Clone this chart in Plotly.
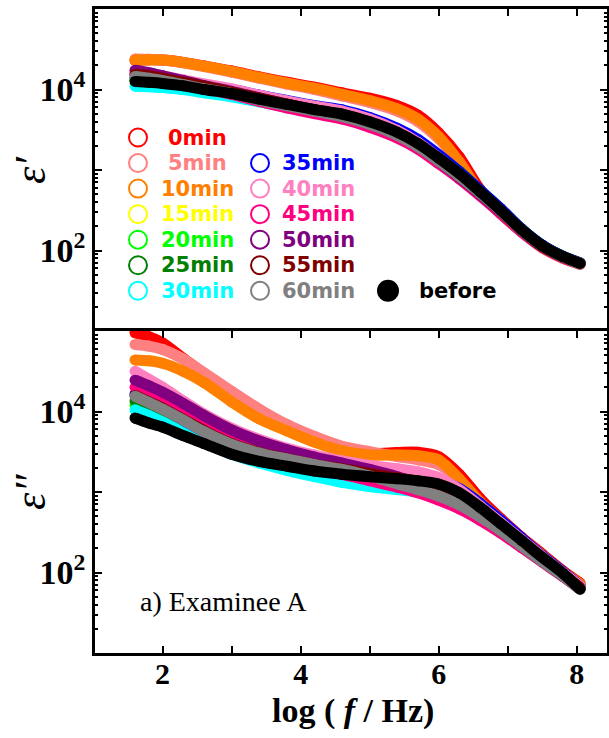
import plotly.graph_objects as go

# ---------------- data ----------------
LOGF = [1.6, 1.8, 2.0, 2.3, 2.6, 3.0, 3.4, 3.8, 4.2, 4.6, 5.0, 5.4, 5.7, 6.0, 6.3, 6.6, 6.9, 7.2, 7.5, 7.8, 8.05]

# epsilon' (upper panel)
E1_00 = [2.3e4, 2.34e4, 2.32e4, 2.17e4, 1.96e4, 1.70e4, 1.43e4, 1.23e4, 1.07e4, 9.1e3, 7.8e3, 6.3e3, 4.8e3, 2.9e3, 1.45e3, 575, 300, 178, 112, 83, 70]
E1_05 = [2.4e4, 2.38e4, 2.33e4, 2.15e4, 1.93e4, 1.64e4, 1.38e4, 1.17e4, 1.0e4, 8.3e3, 6.9e3, 5.4e3, 4.0e3, 2.45e3, 1.25e3, 510, 285, 172, 108, 80, 67]
E1_10 = [2.32e4, 2.34e4, 2.32e4, 2.16e4, 1.95e4, 1.68e4, 1.41e4, 1.20e4, 1.04e4, 8.71e3, 7.3e3, 5.75e3, 4.3e3, 2.6e3, 1.25e3, 525, 288, 174, 110, 81, 68]
E1_15 = [1.29e4, 1.26e4, 1.23e4, 1.15e4, 1.05e4, 9.3e3, 7.9e3, 6.8e3, 5.9e3, 5.2e3, 4.2e3, 3.1e3, 2.24e3, 1.48e3, 933, 550, 324, 184, 116, 85, 70]
E1_20 = [1.32e4, 1.29e4, 1.25e4, 1.17e4, 1.07e4, 9.5e3, 8.1e3, 6.9e3, 6.0e3, 5.3e3, 4.3e3, 3.15e3, 2.3e3, 1.5e3, 950, 555, 326, 185, 116, 85, 70]
E1_25 = [1.3e4, 1.28e4, 1.24e4, 1.16e4, 1.06e4, 9.4e3, 8.0e3, 6.9e3, 6.0e3, 5.3e3, 4.35e3, 3.2e3, 2.35e3, 1.52e3, 960, 560, 328, 186, 117, 85, 70]
E1_30 = [1.1e4, 1.08e4, 1.06e4, 1.0e4, 9.1e3, 8.1e3, 7.0e3, 6.0e3, 5.25e3, 4.6e3, 3.75e3, 2.8e3, 2.04e3, 1.35e3, 871, 525, 309, 180, 115, 84, 69]
E1_35 = [1.41e4, 1.38e4, 1.33e4, 1.24e4, 1.12e4, 1.0e4, 8.5e3, 7.3e3, 6.3e3, 5.6e3, 4.5e3, 3.3e3, 2.4e3, 1.55e3, 955, 562, 331, 186, 117, 85, 70]
E1_40 = [1.66e4, 1.58e4, 1.48e4, 1.32e4, 1.17e4, 1.02e4, 8.5e3, 7.2e3, 6.2e3, 5.4e3, 4.3e3, 3.1e3, 2.2e3, 1.41e3, 890, 525, 309, 178, 112, 83, 69]
E1_45 = [1.55e4, 1.45e4, 1.35e4, 1.17e4, 1.02e4, 8.7e3, 7.1e3, 5.9e3, 5.0e3, 4.3e3, 3.4e3, 2.5e3, 1.82e3, 1.2e3, 776, 479, 288, 170, 110, 81, 68]
E1_50 = [1.74e4, 1.62e4, 1.48e4, 1.29e4, 1.12e4, 9.5e3, 7.9e3, 6.6e3, 5.6e3, 4.8e3, 3.8e3, 2.75e3, 2.0e3, 1.29e3, 813, 501, 302, 178, 112, 83, 69]
E1_55 = [1.55e4, 1.48e4, 1.38e4, 1.23e4, 1.1e4, 9.3e3, 7.8e3, 6.6e3, 5.6e3, 4.9e3, 3.9e3, 2.8e3, 2.04e3, 1.32e3, 851, 513, 309, 178, 112, 83, 69]
E1_60 = [1.45e4, 1.38e4, 1.29e4, 1.15e4, 1.02e4, 8.9e3, 7.4e3, 6.3e3, 5.4e3, 4.6e3, 3.7e3, 2.7e3, 1.95e3, 1.29e3, 832, 513, 309, 178, 114, 83, 68]
E1_BEFORE = [1.26e4, 1.23e4, 1.19e4, 1.11e4, 1.0e4, 8.91e3, 7.59e3, 6.53e3, 5.62e3, 4.95e3, 3.98e3, 2.95e3, 2.14e3, 1.41e3, 902, 537, 316, 182, 115, 84, 69]

# epsilon'' (lower panel)
E2_00 = [9.5e4, 8.5e4, 7.1e4, 4.57e4, 2.95e4, 1.58e4, 9.1e3, 6.0e3, 4.27e3, 3.31e3, 3.02e3, 3.09e3, 3.12e3, 2.75e3, 1.66e3, 832, 468, 275, 170, 105, 74]
E2_05 = [6.8e4, 6.5e4, 5.9e4, 4.47e4, 3.02e4, 1.78e4, 1.07e4, 6.9e3, 4.9e3, 3.7e3, 3.16e3, 2.75e3, 2.51e3, 2.19e3, 1.41e3, 741, 437, 257, 162, 100, 71]
E2_10 = [4.37e4, 4.27e4, 3.98e4, 3.16e4, 2.29e4, 1.32e4, 8.1e3, 5.75e3, 4.17e3, 3.24e3, 2.88e3, 2.88e3, 2.82e3, 2.51e3, 1.45e3, 750, 447, 263, 164, 101, 72]
E2_15 = [1.12e4, 9.5e3, 8.1e3, 6.2e3, 4.7e3, 3.4e3, 2.7e3, 2.3e3, 1.95e3, 1.74e3, 1.62e3, 1.51e3, 1.45e3, 1.29e3, 1.0e3, 661, 407, 251, 155, 98, 63]
E2_20 = [1.2e4, 1.0e4, 8.5e3, 6.4e3, 4.8e3, 3.5e3, 2.75e3, 2.3e3, 1.98e3, 1.78e3, 1.66e3, 1.55e3, 1.48e3, 1.32e3, 1.02e3, 670, 410, 253, 156, 98, 63]
E2_25 = [1.35e4, 1.12e4, 9.2e3, 6.8e3, 5.0e3, 3.6e3, 2.8e3, 2.35e3, 2.02e3, 1.82e3, 1.7e3, 1.6e3, 1.52e3, 1.38e3, 1.06e3, 690, 420, 257, 158, 99, 64]
E2_30 = [1.05e4, 8.9e3, 7.4e3, 5.5e3, 4.17e3, 2.95e3, 2.29e3, 1.86e3, 1.55e3, 1.32e3, 1.17e3, 1.07e3, 1.0e3, 891, 708, 501, 331, 214, 138, 91, 62]
E2_35 = [1.66e4, 1.32e4, 1.1e4, 7.8e3, 5.6e3, 3.9e3, 3.0e3, 2.51e3, 2.19e3, 2.0e3, 1.82e3, 1.7e3, 1.58e3, 1.41e3, 1.1e3, 724, 447, 269, 162, 102, 68]
E2_40 = [3.16e4, 2.51e4, 2.0e4, 1.35e4, 9.3e3, 6.2e3, 4.5e3, 3.5e3, 2.88e3, 2.43e3, 2.14e3, 1.95e3, 1.78e3, 1.51e3, 1.07e3, 676, 417, 257, 158, 100, 68]
E2_45 = [2.0e4, 1.58e4, 1.32e4, 9.3e3, 6.6e3, 4.37e3, 3.09e3, 2.45e3, 2.0e3, 1.66e3, 1.38e3, 1.15e3, 977, 794, 617, 447, 309, 204, 135, 89, 62]
E2_50 = [2.45e4, 2.09e4, 1.74e4, 1.26e4, 8.9e3, 5.9e3, 4.3e3, 3.35e3, 2.72e3, 2.29e3, 1.91e3, 1.55e3, 1.29e3, 1.0e3, 724, 501, 331, 214, 138, 91, 63]
E2_55 = [1.58e4, 1.32e4, 1.1e4, 8.0e3, 5.8e3, 4.0e3, 3.1e3, 2.6e3, 2.2e3, 1.95e3, 1.7e3, 1.5e3, 1.35e3, 1.15e3, 870, 590, 380, 240, 150, 96, 65]
E2_60 = [1.55e4, 1.29e4, 1.07e4, 7.8e3, 5.6e3, 3.9e3, 3.05e3, 2.57e3, 2.19e3, 1.91e3, 1.58e3, 1.26e3, 1.07e3, 891, 692, 490, 331, 214, 138, 91, 62]
E2_BEFORE = [8.3e3, 7.2e3, 6.4e3, 5.0e3, 4.0e3, 2.95e3, 2.4e3, 2.09e3, 1.82e3, 1.66e3, 1.55e3, 1.46e3, 1.38e3, 1.26e3, 977, 646, 403, 251, 155, 98, 62]

NAMES = ["0min", "5min", "10min", "15min", "20min", "25min", "30min",
         "35min", "40min", "45min", "50min", "55min", "60min", "before"]
COLORS = ["#ff0000", "#ff8080", "#ff8000", "#ffff00", "#00ff00", "#008000", "#00ffff",
          "#0000ff", "#ff80c0", "#ff0080", "#800080", "#800000", "#808080", "#000000"]
UPPER = [E1_00, E1_05, E1_10, E1_15, E1_20, E1_25, E1_30,
         E1_35, E1_40, E1_45, E1_50, E1_55, E1_60, E1_BEFORE]
LOWER = [E2_00, E2_05, E2_10, E2_15, E2_20, E2_25, E2_30,
         E2_35, E2_40, E2_45, E2_50, E2_55, E2_60, E2_BEFORE]

X_TICKS = [2, 3, 4, 5, 6, 7, 8]
X_TICKTEXT = ["<b>2</b>", "", "<b>4</b>", "", "<b>6</b>", "", "<b>8</b>"]
Y_TICKS = [1e1, 1e2, 1e3, 1e4, 1e5]
Y_TICKTEXT = ["", "<b>10<sup>2</sup></b>", "", "<b>10<sup>4</sup></b>", ""]

# ---------------- figure ----------------
W, H = 609, 738
ML, MR, MT, MB = 95, 2, 9, 85
PW, PH = W - ML - MR, H - MT - MB


def px_x(px):
    return (px - ML) / PW


def px_y(py):
    return (H - MB - py) / PH


SERIF = "Liberation Serif"
BAND = 11

fig = go.Figure()
for name, col, up, lo in zip(NAMES, COLORS, UPPER, LOWER):
    for vals, xa, ya in ((up, "x2", "y2"), (lo, "x", "y")):
        fig.add_trace(go.Scatter(
            x=LOGF, y=vals, name=name, mode="lines+markers",
            line=dict(color=col, width=BAND, shape="spline", smoothing=0.8),
            marker=dict(size=BAND, color=col),
            xaxis=xa, yaxis=ya, showlegend=False, hoverinfo="skip"))

minor_vals = [m * 10 ** e for e in range(1, 5) for m in range(2, 10)]

axis_common = dict(showline=True, linecolor="black", linewidth=2.5, ticks="inside",
                   tickcolor="black", tickwidth=2, ticklen=7, showgrid=False,
                   zeroline=False, automargin=False)
x_common = dict(axis_common, range=[1.02, 8.44], tickmode="array",
                tickvals=X_TICKS, ticktext=X_TICKTEXT)
y_common = dict(axis_common, type="log", range=[1, 5], tickmode="array",
                tickvals=Y_TICKS, ticktext=Y_TICKTEXT, mirror="ticks",
                tickfont=dict(family=SERIF, size=34, color="black"),
                minor=dict(tickmode="array", tickvals=minor_vals, ticks="inside",
                           ticklen=3.5, tickwidth=1.5, tickcolor="black"))

fig.update_layout(
    width=W, height=H,
    margin=dict(l=ML, r=MR, t=MT, b=MB, autoexpand=False),
    paper_bgcolor="white", plot_bgcolor="white",
    showlegend=False,
    xaxis=dict(x_common, anchor="y", mirror="ticks", ticklabelstandoff=-8,
               tickfont=dict(family=SERIF, size=30, color="black")),
    xaxis2=dict(x_common, anchor="y2", side="top", matches="x",
                showticklabels=False),
    yaxis=dict(y_common, domain=[0, 0.5], anchor="x"),
    yaxis2=dict(y_common, domain=[0.5, 1], anchor="x2"),
)

# ---------------- custom legend ----------------
ROW0, ROWSTEP = 137.5, 25.55
legend_slots = {
    "0min": (0, 0), "5min": (0, 1), "10min": (0, 2), "15min": (0, 3), "20min": (0, 4),
    "25min": (0, 5), "30min": (0, 6), "35min": (1, 1), "40min": (1, 2), "45min": (1, 3),
    "50min": (1, 4), "55min": (1, 5), "60min": (1, 6), "before": (2, 6),
}
COL_CIRCLE = [138, 260, 388]
COL_TEXT = [159, 280, 417]

shapes, annotations = [], []
for name, col in zip(NAMES, COLORS):
    c, r = legend_slots[name]
    cy = ROW0 + r * ROWSTEP
    filled = name == "before"
    rad = 10 if filled else 9
    shapes.append(dict(type="circle", xref="paper", yref="paper",
                       xsizemode="pixel", ysizemode="pixel",
                       xanchor=px_x(COL_CIRCLE[c]), yanchor=px_y(cy),
                       x0=-rad, x1=rad, y0=-rad, y1=rad,
                       line=dict(color=col, width=2),
                       fillcolor=col if filled else "rgba(0,0,0,0)"))
    tx = COL_TEXT[c] + (7 if len(name) == 4 else 0)
    annotations.append(dict(xref="paper", yref="paper", x=px_x(tx), y=px_y(cy),
                            xanchor="left", yanchor="middle", showarrow=False,
                            text="<b>%s</b>" % name,
                            font=dict(family="DejaVu Sans", size=21, color=col)))

# axis titles and label
annotations.append(dict(xref="paper", yref="paper", x=px_x(30), y=px_y(170),
                        text="<i>ε′</i>", textangle=-90, showarrow=False,
                        xanchor="center", yanchor="middle",
                        font=dict(family=SERIF, size=44, color="black")))
annotations.append(dict(xref="paper", yref="paper", x=px_x(30), y=px_y(492),
                        text="<i>ε″</i>", textangle=-90, showarrow=False,
                        xanchor="center", yanchor="middle",
                        font=dict(family=SERIF, size=44, color="black")))
annotations.append(dict(xref="paper", yref="paper", x=px_x(353), y=px_y(711),
                        text="<b>log ( <i>f</i> / Hz)</b>", showarrow=False,
                        xanchor="center", yanchor="middle",
                        font=dict(family=SERIF, size=34, color="black")))
annotations.append(dict(xref="paper", yref="paper", x=px_x(138), y=px_y(601),
                        text="a) Examinee A", showarrow=False,
                        xanchor="left", yanchor="middle",
                        font=dict(family=SERIF, size=28, color="black")))

fig.update_layout(shapes=shapes, annotations=annotations)

# remove the browser's default 8px body margin so the figure sits at the page origin
fig.write_html("out.html", config={"displayModeBar": False},
               post_script="document.body.style.margin='0';document.body.style.padding='0';")
